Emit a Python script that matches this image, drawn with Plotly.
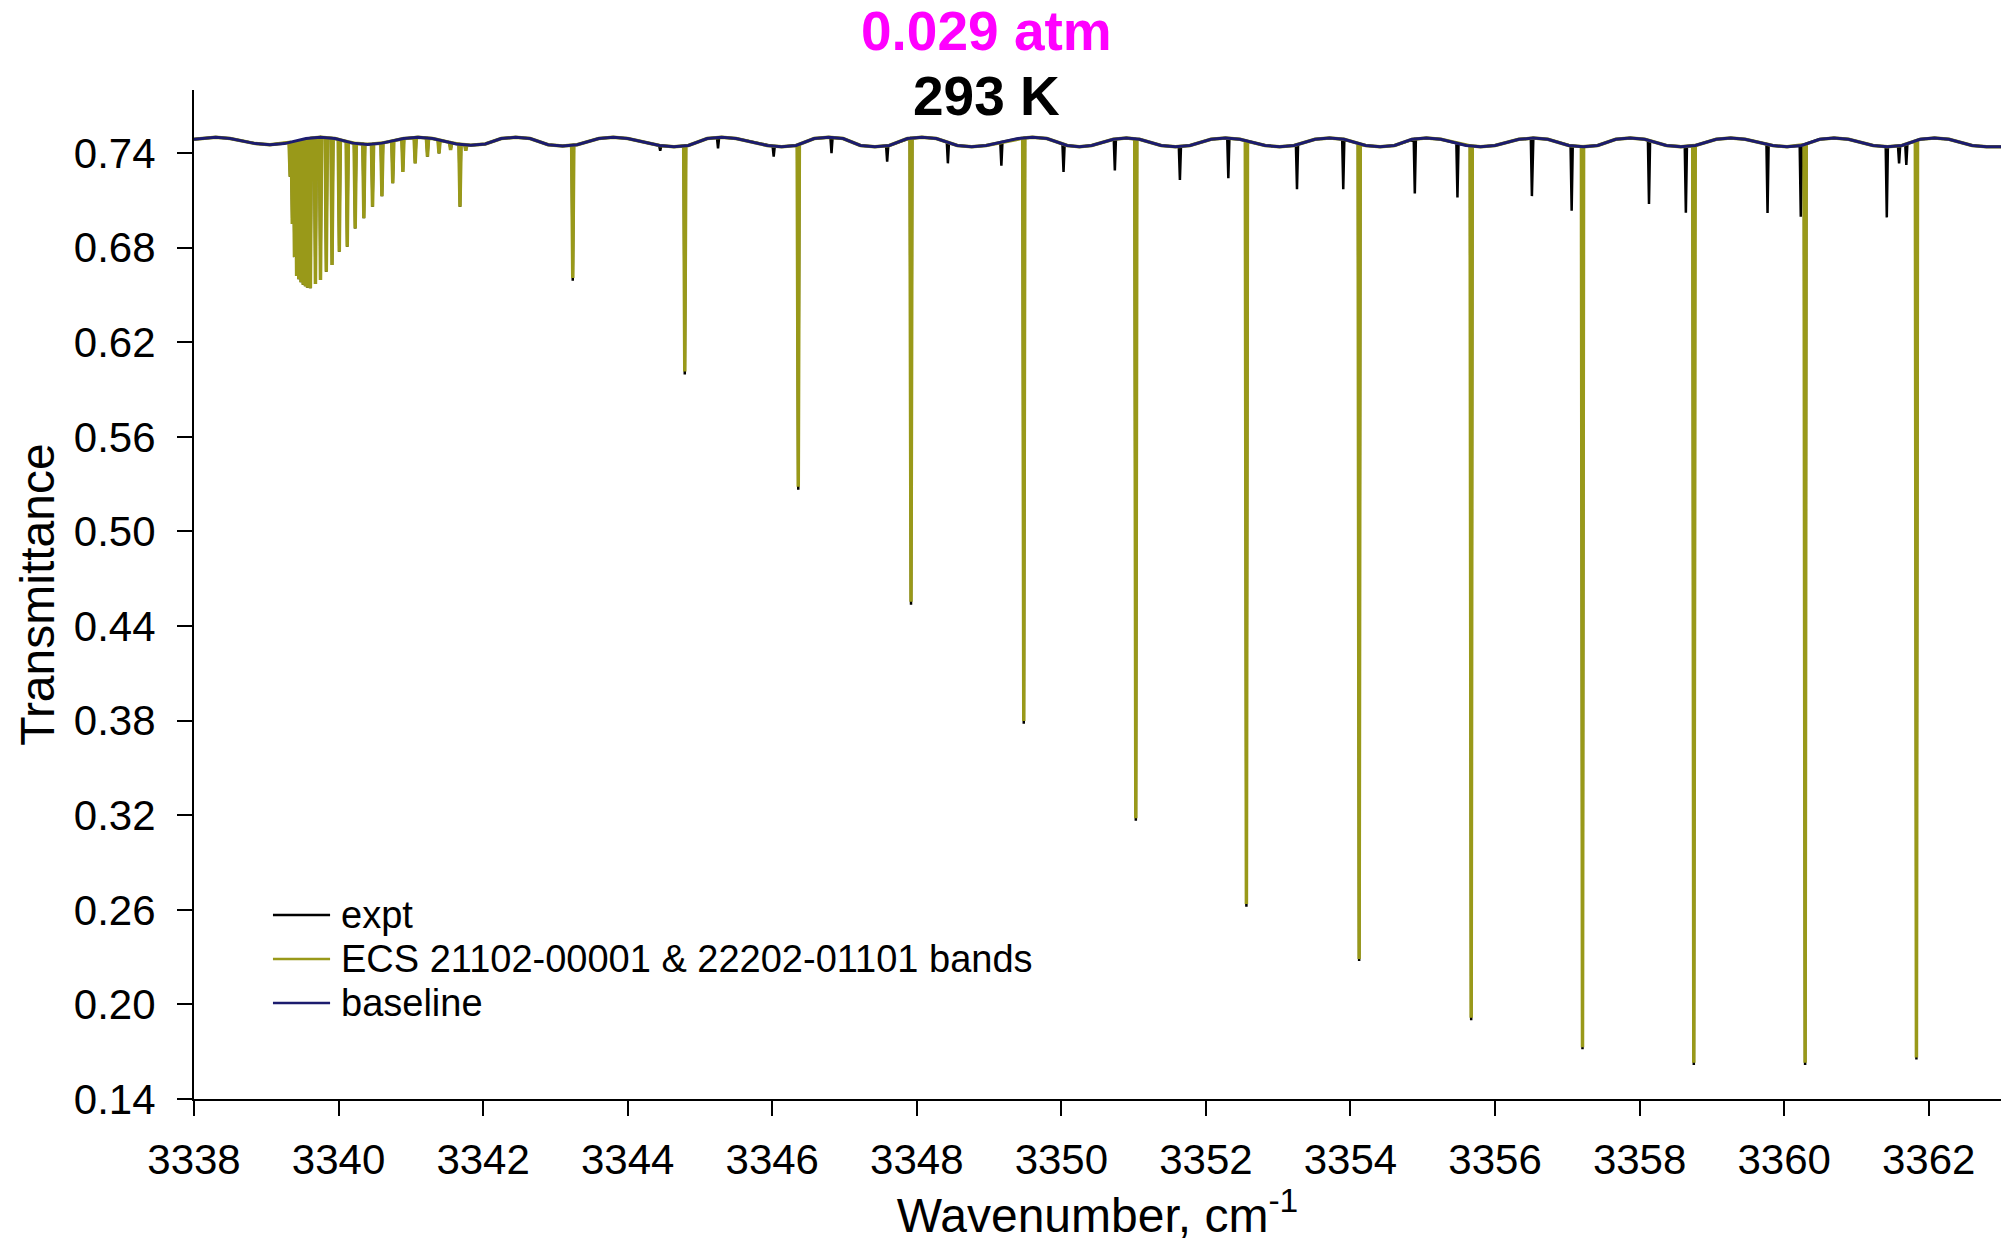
import numpy as np
import plotly.graph_objects as go

# Instrument baseline (wavenumber in cm-1, transmittance)
baseline_wn = [
    3338.00, 3338.10, 3338.30, 3338.50, 3338.85, 3339.05, 3339.25, 3339.55,
    3339.75, 3339.95, 3340.20, 3340.40, 3340.60, 3340.90, 3341.10, 3341.30,
    3341.63, 3341.83, 3342.03, 3342.25, 3342.45, 3342.65, 3342.90, 3343.10,
    3343.30, 3343.60, 3343.80, 3344.00, 3344.44, 3344.64, 3344.84, 3345.10,
    3345.30, 3345.50, 3345.93, 3346.13, 3346.33, 3346.58, 3346.78, 3346.98,
    3347.22, 3347.42, 3347.62, 3347.87, 3348.07, 3348.27, 3348.56, 3348.76,
    3348.96, 3349.40, 3349.60, 3349.80, 3350.08, 3350.25, 3350.42, 3350.72,
    3350.90, 3351.08, 3351.38, 3351.58, 3351.78, 3352.07, 3352.27, 3352.47,
    3352.82, 3353.02, 3353.22, 3353.51, 3353.71, 3353.91, 3354.21, 3354.41,
    3354.61, 3354.85, 3355.05, 3355.25, 3355.60, 3355.80, 3356.00, 3356.33,
    3356.53, 3356.73, 3357.02, 3357.22, 3357.42, 3357.67, 3357.87, 3358.07,
    3358.37, 3358.57, 3358.77, 3359.06, 3359.26, 3359.46, 3359.84, 3360.04,
    3360.24, 3360.49, 3360.69, 3360.89, 3361.23, 3361.43, 3361.63, 3361.88,
    3362.08, 3362.28, 3362.60, 3362.80, 3363.00,
]
baseline_tr = [
    0.7488, 0.7492, 0.7500, 0.7492, 0.7460, 0.7452, 0.7460, 0.7492,
    0.7500, 0.7492, 0.7463, 0.7455, 0.7463, 0.7492, 0.7500, 0.7492,
    0.7458, 0.7450, 0.7458, 0.7492, 0.7500, 0.7492, 0.7453, 0.7445,
    0.7453, 0.7492, 0.7500, 0.7492, 0.7448, 0.7440, 0.7448, 0.7492,
    0.7500, 0.7492, 0.7448, 0.7440, 0.7448, 0.7492, 0.7500, 0.7492,
    0.7448, 0.7440, 0.7448, 0.7492, 0.7500, 0.7492, 0.7448, 0.7440,
    0.7448, 0.7492, 0.7500, 0.7492, 0.7448, 0.7440, 0.7448, 0.7487,
    0.7495, 0.7487, 0.7448, 0.7440, 0.7448, 0.7487, 0.7495, 0.7487,
    0.7448, 0.7440, 0.7448, 0.7487, 0.7495, 0.7487, 0.7448, 0.7440,
    0.7448, 0.7487, 0.7495, 0.7487, 0.7448, 0.7440, 0.7448, 0.7487,
    0.7495, 0.7487, 0.7448, 0.7440, 0.7448, 0.7487, 0.7495, 0.7487,
    0.7448, 0.7440, 0.7448, 0.7487, 0.7495, 0.7487, 0.7448, 0.7440,
    0.7448, 0.7487, 0.7495, 0.7487, 0.7448, 0.7440, 0.7448, 0.7487,
    0.7495, 0.7487, 0.7448, 0.7440, 0.7440,
]

# ECS model: band-head cluster lines (centre, minimum transmittance)
ecs_head_wn = [
    3339.33, 3339.36, 3339.39, 3339.42, 3339.45, 3339.48, 3339.51, 3339.54,
    3339.57, 3339.61, 3339.68, 3339.75, 3339.83, 3339.91, 3340.01, 3340.12,
    3340.23, 3340.35, 3340.47, 3340.60, 3340.75, 3340.89, 3341.06, 3341.23,
    3341.39, 3341.55, 3341.68, 3341.76,
]
ecs_head_min = [
    0.7250, 0.6950, 0.6740, 0.6620, 0.6600, 0.6580, 0.6565, 0.6555,
    0.6545, 0.6542, 0.6569, 0.6595, 0.6647, 0.6690, 0.6774, 0.6806,
    0.6922, 0.6986, 0.7060, 0.7127, 0.7208, 0.7281, 0.7335, 0.7377,
    0.7398, 0.7420, 0.7060, 0.7415,
]

# ECS model: main progression of lines
ecs_main_wn = [
    3343.24, 3344.79, 3346.36, 3347.92, 3349.48, 3351.03, 3352.56,
    3354.12, 3355.67, 3357.21, 3358.75, 3360.29, 3361.83,
]
ecs_main_min = [
    0.6607, 0.6015, 0.5284, 0.4554, 0.3798, 0.3181, 0.2637,
    0.2288, 0.1915, 0.1728, 0.1630, 0.1630, 0.1663,
]

# Measured spectrum: same progression plus weaker lines of other bands
expt_main_min = [
    0.6590, 0.5995, 0.5265, 0.4535, 0.3780, 0.3165, 0.2620,
    0.2275, 0.1900, 0.1715, 0.1615, 0.1615, 0.1650,
]
expt_weak_wn = [
    3344.45, 3345.25, 3346.02, 3346.82, 3347.59, 3348.43, 3349.17, 3350.03,
    3350.74, 3351.64, 3352.31, 3353.26, 3353.90, 3354.89, 3355.48, 3356.51,
    3357.06, 3358.13, 3358.64, 3359.77, 3360.23, 3361.42, 3361.59, 3361.69,
]
expt_weak_min = [
    0.7415, 0.7430, 0.7377, 0.7400, 0.7345, 0.7335, 0.7320, 0.7280,
    0.7290, 0.7229, 0.7240, 0.7170, 0.7170, 0.7144, 0.7119, 0.7127,
    0.7034, 0.7077, 0.7021, 0.7020, 0.6996, 0.6992, 0.7335, 0.7324,
]

x_ticks = list(range(3338, 3363, 2))
y_ticks = [0.14, 0.20, 0.26, 0.32, 0.38, 0.44, 0.50, 0.56, 0.62, 0.68, 0.74]

series_names = ["expt", "ECS 21102-00001 & 22202-01101 bands", "baseline"]
series_colors = ["#000000", "#999919", "#1c1c6e"]

HALF_WIDTH = 0.015  # half-width of each drawn absorption line, cm-1


def spectrum(centers, minima):
    """Continuum from the baseline with a narrow dip at every line centre."""
    bx = np.asarray(baseline_wn, dtype=float)
    by = np.asarray(baseline_tr, dtype=float)
    centers = np.asarray(centers, dtype=float)
    keep = np.ones(len(bx), dtype=bool)
    for c in centers:
        keep &= np.abs(bx - c) > HALF_WIDTH
    xs = list(bx[keep])
    ys = list(by[keep])
    for c, m in zip(centers, minima):
        for x in (c - HALF_WIDTH, c + HALF_WIDTH):
            xs.append(x)
            ys.append(float(np.interp(x, bx, by)))
        xs.append(c)
        ys.append(m)
    order = np.argsort(xs, kind="stable")
    return np.asarray(xs)[order], np.asarray(ys)[order]


expt_x, expt_y = spectrum(
    ecs_head_wn + ecs_main_wn + expt_weak_wn,
    ecs_head_min + expt_main_min + expt_weak_min,
)
ecs_x, ecs_y = spectrum(ecs_head_wn + ecs_main_wn, ecs_head_min + ecs_main_min)

FONT = "Liberation Sans, Arial, Helvetica, sans-serif"

fig = go.Figure()
fig.add_trace(go.Scatter(
    x=expt_x, y=expt_y, mode="lines", name=series_names[0],
    line=dict(color=series_colors[0], width=2.5),
))
fig.add_trace(go.Scatter(
    x=ecs_x, y=ecs_y, mode="lines", name=series_names[1],
    line=dict(color=series_colors[1], width=3.5),
))
fig.add_trace(go.Scatter(
    x=baseline_wn, y=baseline_tr, mode="lines", name=series_names[2],
    line=dict(color=series_colors[2], width=3),
))

axis_common = dict(
    showline=True, linecolor="#000000", linewidth=2,
    ticks="outside", ticklen=15, tickwidth=2, tickcolor="#000000",
    showgrid=False, zeroline=False,
    tickfont=dict(family=FONT, size=42, color="#000000"),
)

# Key drawn in the lower-left corner of the plotting area
legend_shapes = []
legend_notes = []
row_y = [0.1824, 0.1388, 0.0951]
for name, color, yy in zip(series_names, series_colors, row_y):
    legend_shapes.append(dict(
        type="line", xref="paper", yref="paper",
        x0=0.0437, x1=0.0753, y0=yy, y1=yy,
        line=dict(color=color, width=2.5),
    ))
    legend_notes.append(dict(
        text=name, xref="paper", yref="paper", x=0.0802, y=yy,
        xanchor="left", yanchor="middle", showarrow=False,
        font=dict(family=FONT, size=38, color="#000000"),
    ))

fig.update_layout(
    width=2007, height=1242, autosize=False,
    margin=dict(l=194, r=6, t=90, b=143),
    paper_bgcolor="#ffffff", plot_bgcolor="#ffffff",
    font=dict(family=FONT, color="#000000"),
    showlegend=False,
    xaxis=dict(
        range=[3338, 3363], tickvals=x_ticks, ticklabelstandoff=8,
        title=dict(text="Wavenumber, cm<sup>-1</sup>",
                   font=dict(family=FONT, size=48), standoff=6),
        **axis_common,
    ),
    yaxis=dict(
        range=[0.14, 0.78], tickvals=y_ticks, tickformat=".2f",
        ticklabelstandoff=13,
        title=dict(text="Transmittance", font=dict(family=FONT, size=48), standoff=4),
        **axis_common,
    ),
    shapes=legend_shapes,
    annotations=legend_notes + [
        dict(text="<b>0.029 atm</b>", xref="paper", yref="paper",
             x=0.4383, y=1.0584, xanchor="center", yanchor="middle",
             showarrow=False, font=dict(family=FONT, size=55, color="#ff00ff")),
        dict(text="<b>293 K</b>", xref="paper", yref="paper",
             x=0.4383, y=0.994, xanchor="center", yanchor="middle",
             showarrow=False, font=dict(family=FONT, size=55, color="#000000")),
    ],
)

fig.write_html("out.html")
